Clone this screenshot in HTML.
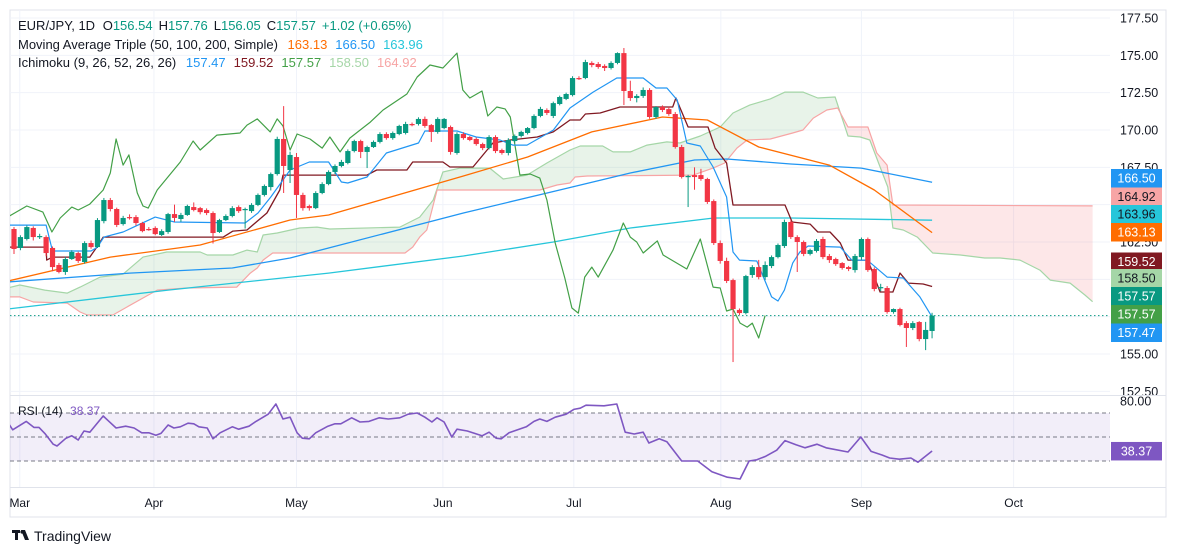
<!DOCTYPE html>
<html><head><meta charset="utf-8"><style>
html,body{margin:0;padding:0;background:#fff;}
svg{display:block;font-family:"Liberation Sans",Arial,sans-serif;}
</style></head><body>
<svg id="chart" width="1177" height="554" viewBox="0 0 1177 554" xmlns="http://www.w3.org/2000/svg">
<defs>
<clipPath id="mainClip"><rect x="10" y="10" width="1100" height="385"/></clipPath>
<clipPath id="rsiClip"><rect x="10" y="396" width="1100" height="91"/></clipPath>
</defs>
<rect x="10" y="10" width="1156" height="507" fill="#fff" stroke="#e0e3eb"/>
<g id="grid"></g>
<g id="cloud" clip-path="url(#mainClip)"></g>
<g id="lines" clip-path="url(#mainClip)"></g>
<g id="candles" clip-path="url(#mainClip)"></g>
<g id="rsi" clip-path="url(#rsiClip)"></g>
<g id="axis"></g>
<line x1="10" y1="395.5" x2="1166" y2="395.5" stroke="#e0e3eb"/>
<line x1="10" y1="487.5" x2="1166" y2="487.5" stroke="#e0e3eb"/>
<g font-size="13">
<text x="18" y="30" fill="#131722">EUR/JPY, 1D <tspan dx="4">O</tspan><tspan fill="#089981">156.54</tspan><tspan dx="6">H</tspan><tspan fill="#089981">157.76</tspan><tspan dx="6">L</tspan><tspan fill="#089981">156.05</tspan><tspan dx="6">C</tspan><tspan fill="#089981">157.57</tspan><tspan dx="6" fill="#089981">+1.02 (+0.65%)</tspan></text>
<text x="18" y="49" fill="#131722">Moving Average Triple (50, 100, 200, Simple) <tspan dx="6" fill="#ff6d00">163.13</tspan><tspan dx="8" fill="#2196f3">166.50</tspan><tspan dx="8" fill="#26c6da">163.96</tspan></text>
<text x="18" y="67" fill="#131722">Ichimoku (9, 26, 52, 26, 26) <tspan dx="6" fill="#2196f3">157.47</tspan><tspan dx="8" fill="#801922">159.52</tspan><tspan dx="8" fill="#43a047">157.57</tspan><tspan dx="8" fill="#a5d6a7">158.50</tspan><tspan dx="8" fill="#f7a5a5">164.92</tspan></text>
<text x="18" y="415" font-size="12" fill="#131722">RSI (14) <tspan dx="4" fill="#7e57c2">38.37</tspan></text>
</g>
<g>
<rect x="12" y="530" width="8" height="3" fill="#131722"/><rect x="15" y="530" width="3" height="10" fill="#131722"/>
<polygon points="21,530 25,530 29,540 25,540" fill="#131722"/><circle cx="22" cy="532" r="1.6" fill="#131722"/>
<text x="34" y="541" font-size="14" fill="#131722">TradingView</text>
</g>
</svg>
<script>
// ---- data ----
const opens=[163.37,162.10,162.70,163.44,162.83,162.83,162.10,160.96,160.49,161.36,
161.76,161.16,162.43,162.16,163.90,165.31,164.71,163.70,164.17,164.17,
163.77,163.37,163.44,162.97,163.17,164.37,164.04,164.31,164.84,164.77,
164.64,164.44,163.17,163.97,164.24,164.84,164.64,164.57,164.98,165.65,
166.18,167.05,169.40,167.32,168.19,165.65,164.91,164.77,165.78,166.38,
167.19,167.59,167.79,168.59,169.26,168.53,168.86,169.20,169.73,169.46,
169.73,169.80,170.40,170.40,170.74,170.33,169.87,170.13,170.20,168.46,
169.73,169.53,169.40,169.06,168.79,169.53,168.66,168.46,169.26,169.60,
169.80,170.13,170.94,171.34,170.94,171.74,172.08,172.34,173.48,173.48,
174.49,174.42,174.29,174.15,174.49,175.15,172.61,172.14,172.28,172.68,
170.87,171.54,171.40,171.07,168.86,166.85,166.98,166.98,166.72,165.24,
162.43,161.23,159.95,157.95,157.74,160.29,160.82,160.15,160.89,161.49,
162.23,163.84,162.83,162.50,161.70,161.90,162.70,161.56,161.36,161.09,
160.82,160.62,161.49,162.70,160.69,159.42,159.42,157.81,158.01,157.07,
156.74,157.14,156.00,156.54];
const closes=[162.03,162.83,163.50,162.83,162.90,161.76,160.82,160.49,161.36,161.83,
161.23,162.43,162.16,163.97,165.31,164.71,163.64,164.11,164.14,163.77,
163.23,163.34,163.03,163.23,164.37,164.11,164.31,164.91,164.64,164.50,
164.44,163.10,163.97,164.24,164.77,164.57,164.71,164.98,165.65,166.25,
167.05,169.40,167.59,168.33,165.65,164.77,164.77,165.78,166.38,167.19,
167.59,167.86,168.59,169.26,168.53,168.86,169.20,169.73,169.46,169.80,
170.27,170.40,170.37,170.74,170.27,169.87,170.74,170.74,168.53,169.73,
169.46,169.33,169.06,168.79,169.53,168.59,168.46,169.33,169.60,169.87,
170.13,170.94,171.41,171.14,171.80,172.21,172.41,173.48,173.45,174.55,
174.35,174.22,174.15,174.49,175.15,172.61,172.14,172.28,172.68,170.87,
171.54,171.34,171.07,168.86,166.85,166.92,166.85,166.72,165.18,162.43,
161.23,159.89,158.01,157.74,160.22,160.82,160.15,160.96,161.49,162.30,
163.84,162.83,162.50,161.70,161.96,162.57,161.49,161.29,161.02,160.76,
160.69,161.56,162.70,160.62,159.35,159.48,157.81,158.01,156.94,156.74,
157.07,156.00,156.61,157.57];
const highs=[163.50,162.95,163.60,163.55,163.05,162.95,162.20,161.10,161.50,161.95,
161.85,162.55,162.60,164.10,165.45,165.45,164.80,164.25,164.35,164.30,
163.85,163.50,163.55,163.35,164.45,165.00,164.45,165.00,165.15,164.85,
164.75,164.55,164.05,164.35,164.90,164.95,164.80,165.10,165.75,166.35,
167.15,169.55,171.60,168.55,168.46,165.80,165.00,165.90,166.50,167.30,
167.70,168.00,168.70,169.35,169.35,168.95,169.30,169.85,169.85,169.90,
170.35,170.55,170.50,170.85,170.90,170.40,170.85,170.80,170.30,169.85,
169.85,169.60,169.50,169.15,169.65,169.65,168.75,169.45,169.70,169.95,
170.20,171.05,171.55,171.45,171.90,172.30,172.50,173.60,173.60,174.70,
174.60,174.55,174.40,174.60,175.20,175.49,173.30,172.40,172.85,172.80,
171.60,171.65,171.55,171.20,169.00,167.00,167.50,167.40,166.80,165.35,
162.60,161.45,160.05,158.05,160.30,160.95,161.30,161.20,161.60,162.40,
164.00,163.95,162.95,162.60,162.05,162.70,162.85,161.70,161.45,161.15,
160.90,161.70,162.80,162.80,160.80,159.70,159.55,158.05,158.10,157.20,
157.20,157.20,157.15,157.76];
const lows=[161.70,161.95,162.60,162.60,162.70,161.55,160.55,160.40,160.30,161.30,
161.10,161.05,162.05,162.10,163.75,164.55,163.50,163.60,164.00,163.60,
163.15,163.25,162.95,162.90,163.05,163.85,163.85,164.25,164.55,164.35,
164.30,162.40,163.10,163.90,164.15,164.45,163.40,164.45,164.90,165.55,
165.95,166.95,165.78,166.45,164.11,164.60,164.60,164.70,165.70,166.30,
167.05,167.50,167.70,168.50,168.12,167.45,168.80,169.10,169.35,169.35,
169.65,169.70,170.25,170.30,170.15,169.20,169.75,170.05,168.35,168.35,
169.35,169.25,168.95,168.65,168.70,168.45,168.35,168.30,169.15,169.50,
169.70,170.05,170.85,171.00,170.80,171.65,172.00,172.25,173.35,173.40,
174.20,174.10,173.95,174.05,174.40,171.67,171.95,171.85,172.15,170.75,
170.75,171.20,170.95,168.75,166.75,164.84,166.00,166.60,165.05,162.30,
161.05,159.75,154.46,157.60,157.65,160.10,160.00,159.95,160.75,161.40,
162.10,162.70,160.49,161.55,161.60,161.80,161.35,161.10,160.90,160.65,
160.55,160.45,161.30,160.50,159.20,159.20,157.70,157.70,156.85,155.47,
156.60,155.85,155.26,156.05];

const sma50Idx=[-1,15,29,43,49,70,80,90,101,108,116,127,134,143];
const sma50Val=[159.88,161.49,162.30,163.97,164.31,166.92,168.19,169.87,170.87,170.67,168.86,167.65,165.98,163.13];
const sma100Idx=[-1,18,34,43,49,70,85,96,106,111,121,132,143];
const sma100Val=[159.82,160.42,160.76,161.43,162.10,164.44,165.98,167.12,167.99,168.06,167.72,167.45,166.50];
const sma200Idx=[-1,24,49,70,84,96,109,121,143];
const sma200Val=[158.01,159.28,160.42,161.56,162.50,163.44,164.11,164.11,163.96];

const tenkanIdx=[-1,5,6,12,13,14,17,22,25,36,38,40,43,46,49,51,52,55,58,63,64,69,72,75.7,77.7,79.9,84,86.6,90.2,93.9,98,100,101.7,103.3,104.8,106.9,108.9,111,112,113,115.7,118,119,120,121.3,122.4,123.7,128.7,130.5,132.9,136,138.5,141.1,143];
const tenkanVal=[163.63,163.63,161.90,161.90,162.16,162.83,163.17,164.17,163.84,163.77,164.44,165.51,167.32,167.86,167.86,166.52,166.45,166.85,168.46,169.13,169.93,169.93,169.53,169.33,168.99,168.99,169.99,171.47,172.54,173.48,173.48,172.81,172.81,172.01,169.13,168.93,167.52,165.51,161.83,161.29,161.23,158.82,158.55,159.28,161.09,161.83,162.23,162.16,161.29,161.29,160.15,160.09,158.82,157.47];

const kijunIdx=[-1,5,5.1,6,11.8,12.9,13.9,32.6,34.1,36.3,39.4,41.4,41.9,55,56.5,61.2,62.1,66.8,67.9,71.5,74.6,77.3,81.5,84,86.6,88.2,89,91.3,94.4,102.6,103.1,105,108.1,109.2,111,112,120.1,121.2,124,125.2,127.1,128.7,129.9,133,134.9,136.9,138,139.3,141.6,143];
const kijunVal=[162.16,162.16,161.29,161.49,161.49,162.16,162.83,162.83,163.23,163.30,164.44,165.98,166.98,166.98,167.32,167.32,167.86,167.86,167.52,167.52,169.13,169.33,169.53,169.87,170.67,170.67,171.07,171.14,171.54,171.54,172.14,170.20,170.20,168.79,167.79,164.98,164.98,163.84,163.70,163.17,163.17,162.43,161.29,161.29,159.15,159.15,160.42,159.75,159.69,159.52];

const chikouIdx=[-1,2,4.5,5.9,7.2,9,10,11.8,13.9,15,15.9,17,17.9,19.2,20.1,20.9,22.3,25.9,27.9,29,31.6,35.2,36.3,37.9,39.9,41,41.9,43,44.1,46.1,48,49.2,50.8,52.3,55.5,57.5,61.2,62.8,64.8,66.8,69,69.9,71,72.9,73.8,75.2,76.5,77.3,78.8,80.4,81.9,83,84.3,85.8,86.9,87.9,88.9,90,91,93.3,94.9,96,97,98,100.2,101.1,104.8,106.9,108.9,110,111,112,113.1,114.2,115,116,117];
const chikouVal=[164.17,164.91,164.50,163.17,164.11,164.84,164.64,165.04,165.98,167.12,169.40,167.65,168.33,165.78,164.91,164.77,165.98,167.86,169.26,168.66,169.66,169.80,170.33,170.74,169.87,170.74,170.27,168.66,169.73,169.40,168.79,169.53,168.53,169.46,170.53,171.34,172.41,173.55,174.35,174.15,175.15,172.68,172.14,172.61,170.94,171.54,171.41,170.87,166.98,167.05,166.78,165.31,162.43,160.09,158.08,157.74,160.15,160.82,160.15,161.96,163.77,162.83,162.50,161.76,162.57,161.63,160.69,162.70,159.48,159.42,157.88,158.01,157.07,156.80,157.07,156.07,157.57];

const spanAIdx=[-1,0.9,4.8,8.3,10.3,13.4,17,20.1,23.8,29,30.1,34.1,36.3,37.9,38.8,41,44.5,47.2,49.2,60.1,63.2,65.3,66.8,69.5,74.1,76.2,79.9,83,86.6,88.2,91.7,93.3,96,98.6,101.7,103.7,106.9,110,112,114.6,117.8,120.1,122.9,125.2,127.9,129.9,131.8,133.3,134.9,136.1,136.9,138.5,140.7,143.1,147.4,151.2,153.6,156.7,159.8,161.4,164.5,166.8,168];
const spanAVal=[159.42,159.62,159.28,159.08,159.48,160.15,160.35,161.49,161.83,161.83,161.63,161.63,161.96,161.83,162.97,163.10,163.44,163.50,163.37,163.50,164.17,165.31,167.19,167.45,167.45,166.72,166.98,167.79,168.66,168.93,168.93,168.53,168.53,168.99,169.20,169.13,169.60,170.20,171.14,171.67,172.08,172.54,172.54,172.14,172.21,169.60,169.53,169.33,167.52,166.18,163.44,163.30,162.83,161.76,161.63,161.43,161.43,161.29,160.62,159.95,159.75,158.95,158.50];
const spanBIdx=[-1,0.9,3,8.3,10.3,11.4,15.4,17.6,20.1,22.3,26.9,34.7,36.8,37.9,38.8,40.3,60.9,62.1,63.2,64.3,65.9,81.9,84.6,86.6,87.4,89.3,105.8,108.9,110.7,112.6,114.2,117.8,121.3,122.9,124.5,126.6,128.3,129.9,133,134.4,136,136.9,168];
const spanBVal=[158.82,158.82,158.48,158.41,157.81,157.61,157.61,158.15,158.75,159.28,159.42,159.48,160.42,160.76,161.29,161.76,161.76,162.16,162.83,163.30,165.98,165.98,166.32,166.45,166.85,166.92,166.98,167.45,167.79,168.79,169.33,169.40,169.80,170.00,170.80,171.34,171.47,170.20,170.20,168.46,167.65,164.98,164.92];

const rsiIdx=[-1,-0.2,1.9,3.1,3.9,4.8,6.1,6.7,8.1,9,10,10.9,11.8,13.9,14.8,15.9,17.4,18.7,19.9,21,22.1,22.9,24,24.9,25.9,27.1,28,28.8,30.1,31,32.1,34,35,36.6,37.7,39.6,40.8,41.9,43,44.1,44.9,46,47,48.9,50,50.9,52.6,53.9,55.3,56.9,58.3,60.1,61.4,62.8,64,65.1,65.9,67,68.2,69,70.6,72.9,74,75.1,75.9,77.1,79.8,81,81.9,83,84.3,86,87.2,88.2,89.1,91.9,93.9,95.2,96.6,98,98.9,100.5,101.7,104,106.5,108.7,111.1,113.1,114.5,115.7,117.1,118.8,120.1,121.8,123.2,125.1,126.5,129.9,131.9,133.5,135.2,136.4,137.9,139.7,140.8,143];
const rsiVal=[62.5,56,63,58,58,53,44,42.5,49,51,47.5,55,54,67.5,63,57.5,59,57.5,53.5,53.5,51.5,53,60,57.5,58.5,61.5,61,58.5,57.5,48.5,53.5,58.5,56.5,59,63,69,77.5,65,66.5,53.5,49,48.5,53.5,59,61,61,66,62.5,63,66,65,66,69,70,66.5,62.5,66,62.5,50,56.5,55,51,54,49,48.5,53.5,58.5,63,65,63,66.5,69,73,74,76.5,76,77.5,54,52.5,54,45,48.5,46,30,30,21,16.5,15,30,31,34,39,47,43.5,41,44,41,37.5,50,38,35,32.5,31.5,32.5,29,38.37];

const priceTicks=[177.5,175,172.5,170,167.5,165,162.5,160,157.5,155,152.5];
const monthLabels=["Mar","Apr","May","Jun","Jul","Aug","Sep","Oct"];
const monthIdx=[0.9,21.8,44,66.8,87.2,110.1,132,155.7];
const rsiLevels=[70,50,30];
const lastClose=157.57;
const axisBoxVals=[166.50,164.92,163.96,163.13,159.52,158.50,157.57,157.57,157.47];
const axisBoxCols=["#2196f3","#f7a5a5","#26c6da","#ff6d00","#801922","#a5d6a7","#089981","#43a047","#2196f3"];
const axisBoxTxt=["#fff","#131722","#131722","#fff","#fff","#131722","#fff","#fff","#fff"];
// layout: stacked box tops on the axis (not data)
const axisBoxTops=[169,187.5,205,223,252.5,269,287,305,323.5];

// ---- scales ----
const NS="http://www.w3.org/2000/svg";
const X=i=>14+i*6.42;
const Y=p=>18+(177.5-p)*14.933;
const RY=v=>413+(70-v)*1.2;
function mk(tag,attrs,parent){const e=document.createElementNS(NS,tag);for(const k in attrs)e.setAttribute(k,attrs[k]);parent.appendChild(e);return e;}
const G=id=>document.getElementById(id);

// grid
const grid=G('grid');
priceTicks.forEach(p=>{const l=mk('line',{x1:10,x2:1110,y1:Y(p),y2:Y(p),stroke:'#f0f3fa'},grid);

});
monthIdx.forEach((m,k)=>{const l=mk('line',{x1:X(m),x2:X(m),y1:10,y2:487,stroke:'#f0f3fa'},grid);


const t=mk('text',{x:X(m),y:507,'font-size':12,fill:'#131722','text-anchor':'middle'},grid);t.textContent=monthLabels[k];

});

function interp(idx,val,i){if(i<=idx[0])return val[0];for(let k=1;k<idx.length;k++){if(i<=idx[k]){const t=(i-idx[k-1])/(idx[k]-idx[k-1]);return val[k-1]+t*(val[k]-val[k-1]);}}return val[val.length-1];}

// cloud: contiguous runs of same sign
const cloud=G('cloud');
const step=0.25;let run=[];let runUp=null;
function flush(){if(run.length<2){return;}
const pts=run.map(s=>X(s[0]).toFixed(1)+','+Y(s[1]).toFixed(1)).concat(run.slice().reverse().map(s=>X(s[0]).toFixed(1)+','+Y(s[2]).toFixed(1))).join(' ');
const q=mk('polygon',{points:pts,fill:runUp?'rgba(67,160,71,0.12)':'rgba(242,54,69,0.12)'},cloud);

}
for(let i=-1;i<=168.001;i+=step){const a=interp(spanAIdx,spanAVal,i),b=interp(spanBIdx,spanBVal,i);const up=a>=b;
if(runUp===null)runUp=up;
if(up!==runUp){const last=run[run.length-1];run.push([i,(a+b)/2,(a+b)/2]);flush();run=[[last?i:i,(a+b)/2,(a+b)/2]];runUp=up;}
run.push([i,a,b]);}
flush();

// lines
const lines=G('lines');
function poly(idx,val,color,w,name){const pts=idx.map((d,k)=>X(d).toFixed(1)+','+Y(val[k]).toFixed(1)).join(' ');
const e=mk('polyline',{points:pts,fill:'none',stroke:color,'stroke-width':w,'stroke-linejoin':'round'},lines);

}
poly(spanAIdx,spanAVal,'#a5d6a7',1.2,'senkou-span-a');
poly(spanBIdx,spanBVal,'#f7a5a5',1.2,'senkou-span-b');
poly(sma200Idx,sma200Val,'#26c6da',1.3,'sma-200');
poly(sma100Idx,sma100Val,'#2196f3',1.3,'sma-100');
poly(sma50Idx,sma50Val,'#ff6d00',1.3,'sma-50');
poly(chikouIdx,chikouVal,'#43a047',1.2,'chikou-span');
poly(kijunIdx,kijunVal,'#801922',1.3,'kijun-sen');
poly(tenkanIdx,tenkanVal,'#2196f3',1.2,'tenkan-sen');
const ll=mk('line',{x1:10,x2:1110,y1:Y(lastClose),y2:Y(lastClose),stroke:'#089981','stroke-dasharray':'1.5,2.5'},lines);



// candles
const cg=G('candles');
opens.forEach((o,i)=>{const c=closes[i];const col=c>=o?'#089981':'#f23645';const x=X(i);
const w=mk('line',{x1:x,x2:x,y1:Y(highs[i]),y2:Y(lows[i]),stroke:col,'stroke-width':1},cg);


const top=Math.min(Y(o),Y(c)),h=Math.max(1.2,Math.abs(Y(o)-Y(c)));
const b=mk('rect',{x:x-2.6,y:top,width:5.2,height:h,fill:col},cg);

});

// RSI
const rg=G('rsi');
const band=mk('rect',{x:10,y:RY(70),width:1100,height:RY(30)-RY(70),fill:'rgba(126,87,194,0.1)'},rg);


rsiLevels.forEach(v=>{const l=mk('line',{x1:10,x2:1110,y1:RY(v),y2:RY(v),stroke:'#787b86','stroke-dasharray':'4,3'},rg);

});
const rl=mk('polyline',{points:rsiIdx.map((d,k)=>X(d).toFixed(1)+','+RY(rsiVal[k]).toFixed(1)).join(' '),fill:'none',stroke:'#7e57c2','stroke-width':1.6,'stroke-linejoin':'round'},rg);



// axis
const ax=G('axis');
priceTicks.forEach(p=>{const t=mk('text',{x:1120,y:Y(p)+4.5,'font-size':12.5,fill:'#131722'},ax);t.textContent=p.toFixed(2);

});
const r80=mk('text',{x:1120,y:RY(80)+4.5,'font-size':12.5,fill:'#131722'},ax);r80.textContent='80.00';


axisBoxVals.forEach((v,k)=>{const top=axisBoxTops[k];
const r=mk('rect',{x:1111,y:top,width:51,height:18.5,fill:axisBoxCols[k]},ax);


const t=mk('text',{x:1136.5,y:top+13.5,'font-size':12.5,fill:axisBoxTxt[k],'text-anchor':'middle'},ax);t.textContent=v.toFixed(2);

});
const rb=mk('rect',{x:1111,y:RY(38.37)-9,width:51,height:18.5,fill:'#7e57c2'},ax);


const rt=mk('text',{x:1136.5,y:RY(38.37)+4.5,'font-size':12.5,fill:'#fff','text-anchor':'middle'},ax);rt.textContent='38.37';


</script>
</body></html>
